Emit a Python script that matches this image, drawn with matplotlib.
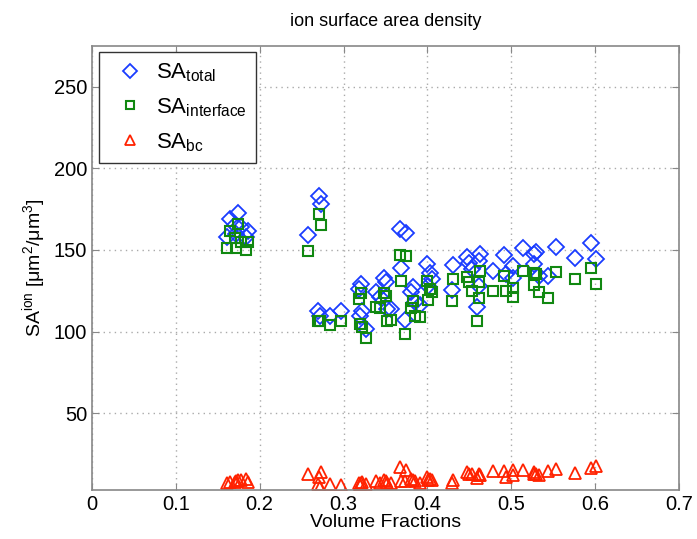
import matplotlib
matplotlib.use("Agg")
import matplotlib.pyplot as plt

# volume fraction of each sample and the three surface-area densities
vol_frac = [0.161, 0.165, 0.174, 0.172, 0.186, 0.184, 0.170, 0.178,
            0.258, 0.271, 0.273, 0.270, 0.272, 0.284, 0.297,
            0.318, 0.321, 0.322, 0.320, 0.327, 0.339, 0.343, 0.348, 0.351,
            0.357, 0.352, 0.367, 0.374, 0.369, 0.373, 0.383, 0.381, 0.385,
            0.399, 0.401, 0.406, 0.391, 0.403,
            0.430, 0.429,
            0.447, 0.450, 0.453, 0.463, 0.462, 0.462, 0.459,
            0.478, 0.492, 0.494, 0.502, 0.502, 0.514,
            0.527, 0.530, 0.527, 0.533, 0.544, 0.553, 0.576, 0.595, 0.601]
sa_total = [157.7, 169.0, 172.9, 160.0, 161.8, 158.0, 165.0, 164.0,
            159.4, 183.0, 178.0, 112.8, 109.8, 109.8, 112.4,
            126.1, 129.2, 112.8, 109.8, 101.7, 124.0, 121.0, 132.9, 130.2,
            113.9, 114.0, 162.8, 160.2, 138.8, 107.2, 127.1, 124.0, 118.0,
            141.4, 128.1, 132.3, 116.0, 136.0,
            141.0, 125.7,
            145.5, 141.8, 138.4, 147.5, 143.4, 128.1, 114.9,
            137.3, 146.9, 135.0, 140.4, 133.0, 151.2,
            147.5, 148.5, 141.4, 134.3, 133.8, 151.6, 145.1, 154.0, 144.5]
sa_interface = [151.2, 161.8, 166.0, 151.2, 154.7, 150.0, 157.0, 155.0,
                149.2, 172.0, 165.0, 106.7, 106.3, 104.1, 106.7,
                120.0, 123.4, 103.0, 104.7, 95.9, 115.3, 114.5, 123.4, 122.0,
                107.2, 106.7, 147.0, 146.3, 131.2, 98.6, 119.0, 114.5, 109.8,
                131.2, 119.4, 124.0, 108.7, 126.0,
                132.3, 118.5,
                133.2, 130.2, 125.1, 137.3, 130.2, 120.6, 106.3,
                124.7, 134.3, 124.7, 126.7, 121.4, 137.3,
                135.9, 135.3, 128.8, 124.0, 120.6, 136.7, 132.3, 139.0, 129.2]
sa_bc = [7.0, 8.0, 9.0, 8.5, 8.0, 9.5, 8.0, 9.0,
         12.5, 11.0, 14.0, 6.8, 5.0, 6.8, 5.8,
         7.0, 7.5, 8.0, 6.0, 6.5, 8.5, 7.5, 9.0, 8.5,
         7.0, 7.5, 17.0, 15.0, 8.5, 8.5, 9.0, 9.8, 8.5,
         10.8, 8.8, 8.8, 7.5, 10.0,
         9.2, 7.5,
         13.9, 12.5, 13.0, 12.0, 12.9, 11.9, 10.5,
         14.9, 14.5, 11.0, 15.4, 12.0, 15.4,
         13.9, 12.5, 12.5, 12.0, 14.5, 16.0, 13.3, 16.6, 17.4]

plt.rcParams["font.family"] = ["Liberation Sans", "DejaVu Sans"]
plt.rcParams["mathtext.fontset"] = "custom"
plt.rcParams["mathtext.rm"] = "Liberation Sans"
plt.rcParams["mathtext.it"] = "Liberation Sans"

fig = plt.figure(figsize=(6.97, 5.39), dpi=100)
ax = fig.add_axes([0.132, 0.091, 0.842, 0.824])

ax.plot(vol_frac, sa_total, ls="none", marker="D", ms=8, mfc="none",
        mec="#1a3cff", mew=1.3, label=r"$\mathregular{SA_{total}}$")
ax.plot(vol_frac, sa_interface, ls="none", marker="s", ms=6.5, mfc="none",
        mec="#118811", mew=1.5, label=r"$\mathregular{SA_{interface}}$")
ax.plot(vol_frac, sa_bc, ls="none", marker="^", ms=8, mfc="none",
        mec="#ff2200", mew=1.3, label=r"$\mathregular{SA_{bc}}$")

ax.set_xlim(0, 0.7)
ax.set_ylim(3, 275)
ax.set_xticks([0, 0.1, 0.2, 0.3, 0.4, 0.5, 0.6, 0.7])
ax.set_xticklabels(["0", "0.1", "0.2", "0.3", "0.4", "0.5", "0.6", "0.7"])
ax.set_yticks([50, 100, 150, 200, 250])
ax.grid(True, ls=(0, (1, 3)), color="#aaaaaa", lw=1)
ax.tick_params(direction="in", top=True, right=True, labelsize=14.5,
               color="#888888", length=5)
for s in ax.spines.values():
    s.set_color("#888888")
    s.set_linewidth(1.2)

ax.set_title("ion surface area density", fontsize=13, pad=14)
ax.set_xlabel("Volume Fractions", fontsize=14, labelpad=0)
ax.set_ylabel(r"$\mathregular{SA^{ion}\ [\mu m^2/\mu m^3]}$", fontsize=14)

leg = ax.legend(loc="upper left", fontsize=16, fancybox=False,
                edgecolor="#333333", framealpha=1, borderaxespad=0.3,
                handletextpad=0.2, labelspacing=0.55, markerscale=0.85)
leg.get_frame().set_linewidth(1.0)

fig.savefig("out.png", dpi=100)
